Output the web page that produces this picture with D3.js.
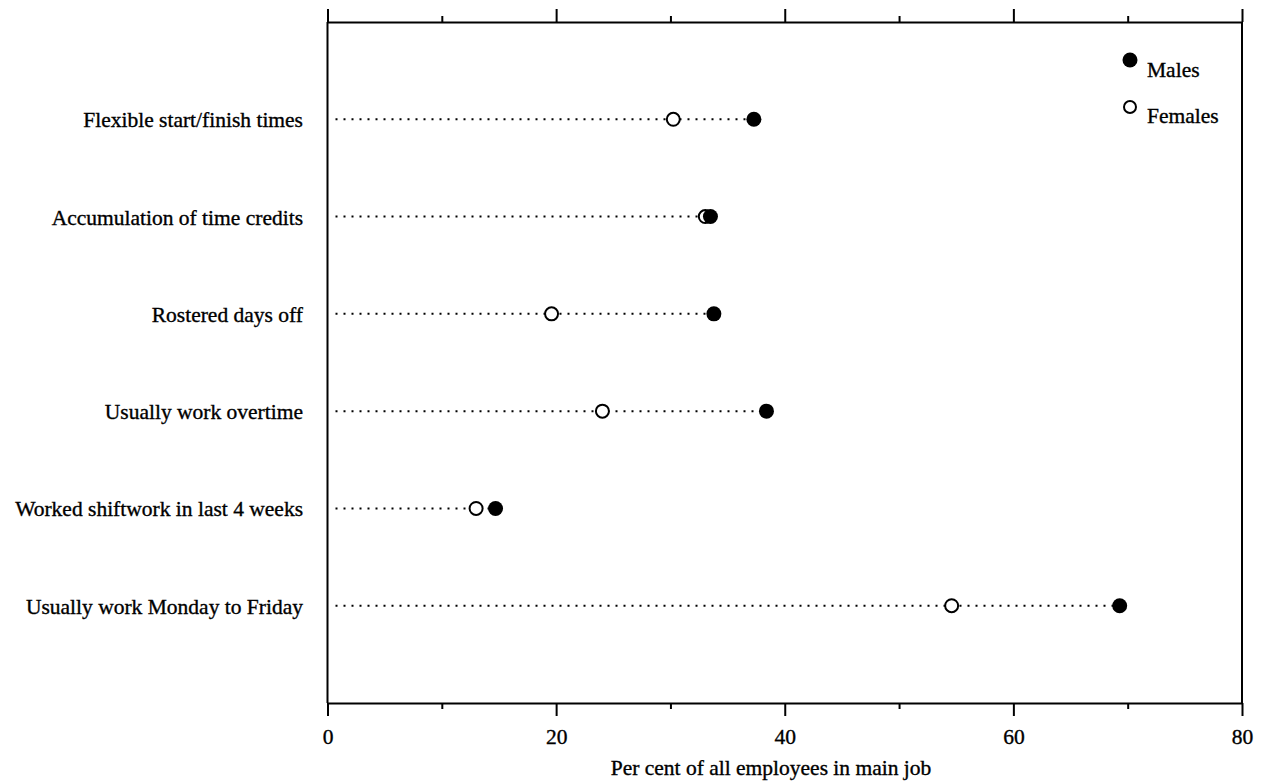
<!DOCTYPE html>
<html><head><meta charset="utf-8">
<script src="https://cdn.jsdelivr.net/npm/d3@7"></script>
<style>body{margin:0;background:#fff;} text{font-family:"Liberation Serif","Times New Roman",serif;fill:#000;stroke:#000;stroke-width:0.35px;}</style>
</head><body>
<svg id="c" width="1261" height="781"></svg>
<script>
const categories = ["Flexible start/finish times","Accumulation of time credits","Rostered days off","Usually work overtime","Worked shiftwork in last 4 weeks","Usually work Monday to Friday"];
const males = [37.3, 33.5, 33.8, 38.4, 14.7, 69.3];
const females = [30.25, 33.05, 19.6, 24.05, 13.0, 54.6];
const xTicks = [0,10,20,30,40,50,60,70,80];
const xLabels = ["0","","20","","40","","60","","80"];
const seriesNames = ["Males","Females"];
const xTitle = "Per cent of all employees in main job";

const svg = d3.select("#c");
const L = 327.5, R = 1242, T = 22, B = 703;
const FS = "21.5px";
const x = d3.scaleLinear().domain([0,80]).range([L,R]);
const y = d3.scalePoint().domain(categories).range([T,B]).padding(1);

// frame verticals
svg.append("line").attr("x1",L).attr("x2",L).attr("y1",T).attr("y2",B).attr("stroke","#000").attr("stroke-width",2);
svg.append("line").attr("x1",R).attr("x2",R).attr("y1",T).attr("y2",B).attr("stroke","#000").attr("stroke-width",2);

function styleAxis(g, dir){
  g.select(".domain").attr("stroke-width",2);
  g.selectAll(".tick line").attr("stroke-width",2)
    .attr("y2",(d,i)=> dir*(i%2===0 ? 13 : 6));
}
const topAxis = svg.append("g").attr("transform",`translate(0,${T})`)
  .call(d3.axisTop(x).tickValues(xTicks).tickSize(12).tickSizeOuter(0).tickFormat(""));
styleAxis(topAxis,-1);
const botAxis = svg.append("g").attr("transform",`translate(0,${B})`)
  .call(d3.axisBottom(x).tickValues(xTicks).tickSize(12).tickSizeOuter(0).tickFormat((d,i)=>xLabels[i]));
styleAxis(botAxis,1);
botAxis.selectAll(".tick text").attr("y",41).attr("dy",null)
  .style("font-size",FS).style("font-family","Liberation Serif");

svg.append("text").attr("x",771).attr("y",775).attr("text-anchor","middle").style("font-size",FS).text(xTitle);

// category labels
svg.selectAll(".cat").data(categories).join("text").attr("class","cat")
  .attr("x",303).attr("y",d=>y(d)+8).attr("text-anchor","end")
  .style("font-size",FS).text(d=>d);

// dotted lines
svg.selectAll(".dl").data(categories).join("line").attr("class","dl")
  .attr("x1",x(0)+8).attr("x2",(d,i)=>x(Math.max(males[i],females[i])))
  .attr("y1",d=>y(d)).attr("y2",d=>y(d))
  .attr("stroke","#000").attr("stroke-width",2).attr("stroke-dasharray","2,6");

// points
svg.selectAll(".f").data(categories).join("circle").attr("class","f")
  .attr("cx",(d,i)=>x(females[i])).attr("cy",d=>y(d)).attr("r",6.5)
  .attr("fill","#fff").attr("stroke","#000").attr("stroke-width",2);
svg.selectAll(".m").data(categories).join("circle").attr("class","m")
  .attr("cx",(d,i)=>x(males[i])).attr("cy",d=>y(d)).attr("r",7.5)
  .attr("fill","#000");

// legend
const lg = svg.append("g");
lg.append("circle").attr("cx",1130).attr("cy",60).attr("r",7.5).attr("fill","#000");
lg.append("text").attr("x",1147).attr("y",77).style("font-size",FS).text(seriesNames[0]);
lg.append("circle").attr("cx",1130).attr("cy",107).attr("r",6).attr("fill","#fff").attr("stroke","#000").attr("stroke-width",2);
lg.append("text").attr("x",1147).attr("y",123).style("font-size",FS).text(seriesNames[1]);
</script>
</body></html>
